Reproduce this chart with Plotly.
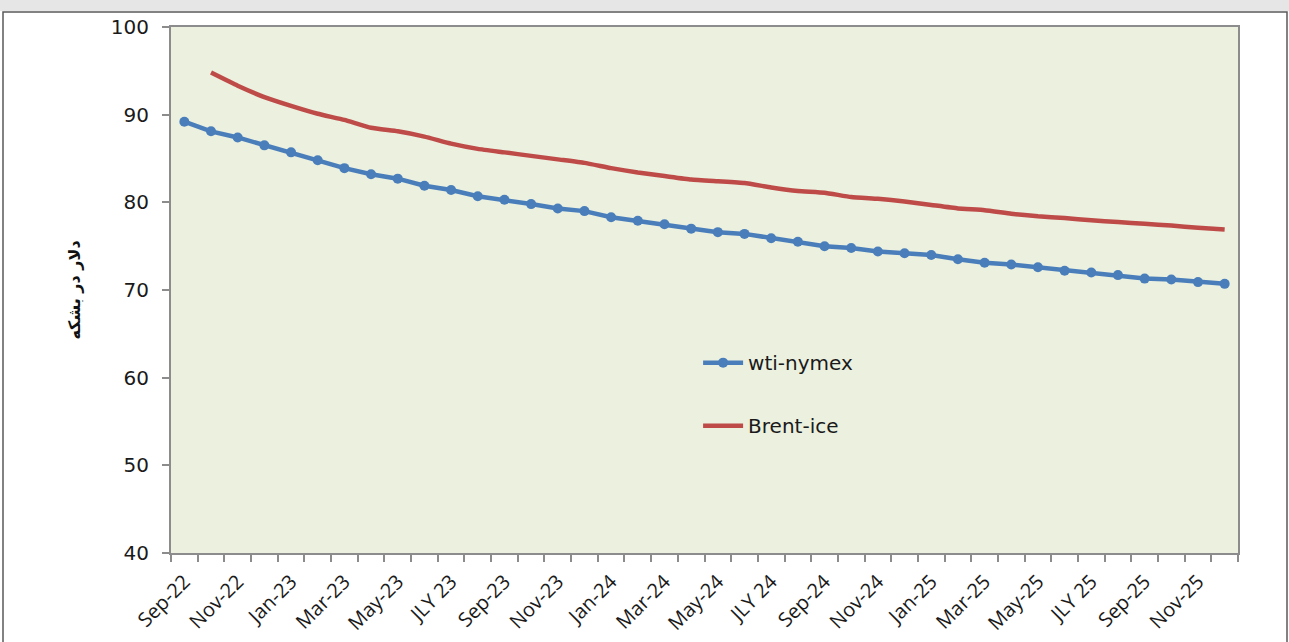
import plotly.graph_objects as go

# Monthly contract months, Sep-22 .. Dec-25
months = [
    "Sep-22", "Oct-22", "Nov-22", "Dec-22",
    "Jan-23", "Feb-23", "Mar-23", "Apr-23", "May-23", "Jun-23",
    "Jul-23", "Aug-23", "Sep-23", "Oct-23", "Nov-23", "Dec-23",
    "Jan-24", "Feb-24", "Mar-24", "Apr-24", "May-24", "Jun-24",
    "Jul-24", "Aug-24", "Sep-24", "Oct-24", "Nov-24", "Dec-24",
    "Jan-25", "Feb-25", "Mar-25", "Apr-25", "May-25", "Jun-25",
    "Jul-25", "Aug-25", "Sep-25", "Oct-25", "Nov-25", "Dec-25",
]

# Labels shown on the axis (every second month)
tick_labels = [
    "Sep-22", "Nov-22", "Jan-23", "Mar-23", "May-23", "JLY 23",
    "Sep-23", "Nov-23", "Jan-24", "Mar-24", "May-24", "JLY 24",
    "Sep-24", "Nov-24", "Jan-25", "Mar-25", "May-25", "JLY 25",
    "Sep-25", "Nov-25",
]

wti_nymex = [
    89.2, 88.1, 87.4, 86.5,
    85.7, 84.8, 83.9, 83.2, 82.7, 81.9,
    81.4, 80.7, 80.3, 79.8, 79.3, 79.0,
    78.3, 77.9, 77.5, 77.0, 76.6, 76.4,
    75.9, 75.5, 75.0, 74.8, 74.4, 74.2,
    74.0, 73.5, 73.1, 72.9, 72.6, 72.2,
    72.0, 71.7, 71.3, 71.2, 70.9, 70.7,
]

brent_ice = [
    None, 94.8, 93.3, 92.0,
    91.0, 90.1, 89.4, 88.5, 88.1, 87.5,
    86.7, 86.1, 85.7, 85.3, 84.9, 84.5,
    83.9, 83.4, 83.0, 82.6, 82.4, 82.2,
    81.7, 81.3, 81.1, 80.6, 80.4, 80.1,
    79.7, 79.3, 79.1, 78.7, 78.4, 78.2,
    77.95, 77.75, 77.55, 77.35, 77.1, 76.9,
]

label_map = dict(zip(months[::2], tick_labels))
ticktext = [label_map.get(m, "") for m in months]

W, H = 1289, 642
L, R, T, B = 171, 51, 27, 89
pw, ph = W - L - R, H - T - B


def px_x(x):
    return (x - L) / pw


def px_y(y):
    return (H - B - y) / ph


fig = go.Figure()

fig.add_trace(go.Scatter(
    x=months, y=wti_nymex, name="wti-nymex", mode="lines+markers",
    line=dict(color="#4A7EBB", width=4.5),
    marker=dict(color="#4A7EBB", size=10, symbol="circle"),
    legendgroup="wti",
))
fig.add_trace(go.Scatter(
    x=months, y=brent_ice, name="Brent-ice", mode="lines",
    line=dict(color="#BE4B48", width=4.5, shape="spline", smoothing=0.4),
    legendgroup="brent",
))

axis_color = "#8c8c8c"

fig.update_layout(
    width=W, height=H,
    margin=dict(l=L, r=R, t=T, b=B),
    paper_bgcolor="white",
    plot_bgcolor="#EBF0DF",
    showlegend=True,
    legend=dict(
        x=0.494, y=0.399, xanchor="left", yanchor="top",
        bgcolor="rgba(0,0,0,0)",
        font=dict(family="DejaVu Sans", size=20, color="#1a1a1a"),
        tracegroupgap=34,
        itemwidth=40,
    ),
    xaxis=dict(
        type="category",
        automargin=False,
        range=[-0.5, len(months) - 0.5],
        tickmode="array", tickvals=months, ticktext=ticktext,
        tickson="boundaries",
        ticks="outside", ticklen=7, tickcolor=axis_color, tickwidth=2,
        tickangle=-45,
        ticklabelstandoff=7,
        tickfont=dict(family="Open Sans", size=20, color="#1a1a1a"),
        showgrid=False, zeroline=False,
        showline=True, linecolor=axis_color, linewidth=2, mirror=True,
    ),
    yaxis=dict(
        automargin=False,
        range=[40, 100], dtick=10,
        ticks="outside", ticklen=7, tickcolor=axis_color, tickwidth=2,
        ticklabelstandoff=9,
        tickfont=dict(family="DejaVu Sans", size=20, color="#1a1a1a"),
        showgrid=False, zeroline=False,
        showline=True, linecolor=axis_color, linewidth=2, mirror=True,
        title=dict(text="<b>دلار در بشکه</b>",
                   font=dict(family="DejaVu Sans", size=16, color="#111"),
                   standoff=26),
    ),
    shapes=[
        # grey strip along the top edge of the page
        dict(type="rect", xref="paper", yref="paper",
             x0=px_x(0), x1=px_x(W), y0=px_y(11), y1=px_y(0),
             fillcolor="#E6E6E6", line=dict(width=0), layer="below"),
        # outer frame around the chart
        dict(type="rect", xref="paper", yref="paper",
             x0=px_x(3), x1=px_x(1287), y0=px_y(H + 5), y1=px_y(12),
             fillcolor="rgba(0,0,0,0)",
             line=dict(color="#595959", width=1.5), layer="below"),
    ],
)

fig.write_html("out.html")
